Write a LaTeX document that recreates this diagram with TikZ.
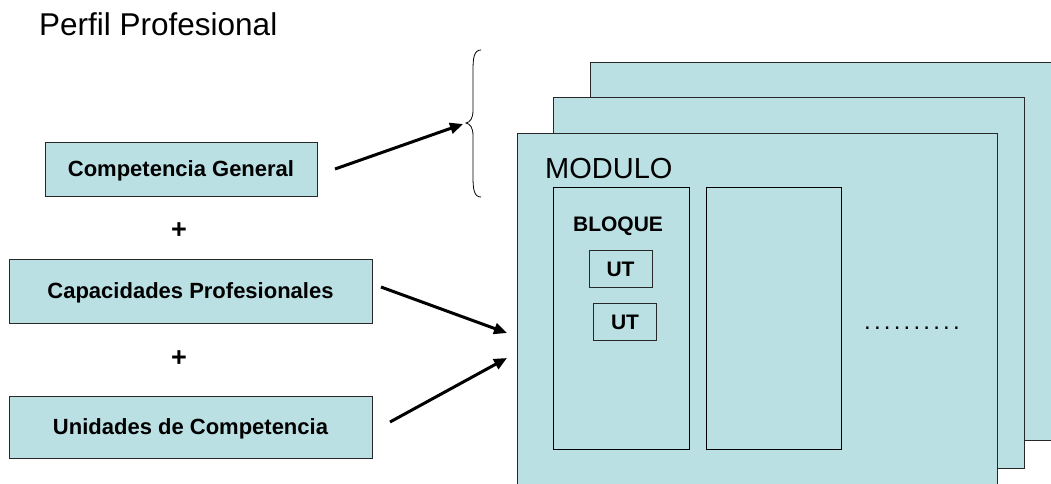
\documentclass[tikz,border=0pt]{standalone}
\usepackage{fontspec}
\setmainfont{Liberation Sans}
\usetikzlibrary{arrows.meta}
\definecolor{pagefill}{RGB}{187,224,227}
\definecolor{edge}{RGB}{40,40,40}
\newcommand{\dk}{.\kern3.2pt}
\begin{document}
\begin{tikzpicture}[x=1pt,y=-1pt,
  page/.style={draw=edge,fill=pagefill,line width=1pt},
  lbox/.style={draw=edge,fill=pagefill,line width=1pt,inner sep=0pt,text height=15.8pt,text depth=0pt,font=\fontsize{22}{26}\selectfont\bfseries},
  inbox/.style={draw=black,line width=1pt,inner sep=0pt},
  utbox/.style={draw=edge,line width=1pt,inner sep=0pt,minimum width=63pt,minimum height=37pt,text height=15.1pt,text depth=0pt,font=\fontsize{21}{25}\selectfont\bfseries},
  plus/.style={inner sep=0pt,font=\fontsize{27}{30}\selectfont\bfseries},
  arr/.style={line width=3pt,-{Triangle[length=13pt,width=11pt]}},
  txt/.style={inner sep=0pt}]
\useasboundingbox (0,0) rectangle (1051,483);
% stacked pages
\path[page] (590,62) rectangle (1070,440);
\path[page] (553,97) rectangle (1024,468);
\path[page] (517,133) rectangle (997,500);
\node[txt,anchor=base west,font=\fontsize{29}{34}\selectfont] (mod) at (545,178) {MODULO};
\node[inbox,minimum width=136pt,minimum height=262pt] (blq) at (621,318) {};
\node[inbox,minimum width=135pt,minimum height=262pt] (blq2) at (773.5,318) {};
\node[txt,text height=15pt,text depth=0pt,font=\fontsize{21}{25}\selectfont\bfseries] (blqt) at (618,224) {BLOQUE};
\node[utbox] (ut1) at (620.5,268.5) {UT};
\node[utbox] (ut2) at (625,321.5) {UT};
\node[txt,anchor=base west,font=\fontsize{24}{28}\selectfont] (dots) at (864,329.5) {\dk\dk\dk\dk\dk\dk\dk\dk\dk.};
% title
\node[txt,anchor=base west,font=\fontsize{31.5}{36}\selectfont] (title) at (39,35) {Perfil Profesional};
% left boxes
\node[lbox,minimum width=272pt,minimum height=54pt] (cg) at (181,169) {Competencia General};
\node[plus] (p1) at (179,231) {+};
\node[lbox,minimum width=363pt,minimum height=64pt] (cp) at (190.5,291) {Capacidades Profesionales};
\node[plus] (p2) at (179,359) {+};
\node[lbox,minimum width=363pt,minimum height=62pt] (uc) at (190.5,427) {Unidades de Competencia};
% brace
\coordinate (bt) at (466,123);
\draw[line width=0.8pt] (481,50) .. controls (474,50) and (473,58) .. (473,70) -- (473,110) .. controls (473,119) and (470,122) .. (bt) .. controls (470,124) and (473,127) .. (473,136) -- (473,177) .. controls (473,189) and (474,197) .. (481,197);
% arrows
\coordinate (a1s) at (335,169);
\coordinate (a1e) at (463,124);
\coordinate (a2s) at (381,287);
\coordinate (a2e) at (507,333);
\coordinate (a3s) at (390,422);
\coordinate (a3e) at (507,358);
\draw[arr] (a1s) -- (a1e);
\draw[arr] (a2s) -- (a2e);
\draw[arr] (a3s) -- (a3e);
\end{tikzpicture}
\end{document}
